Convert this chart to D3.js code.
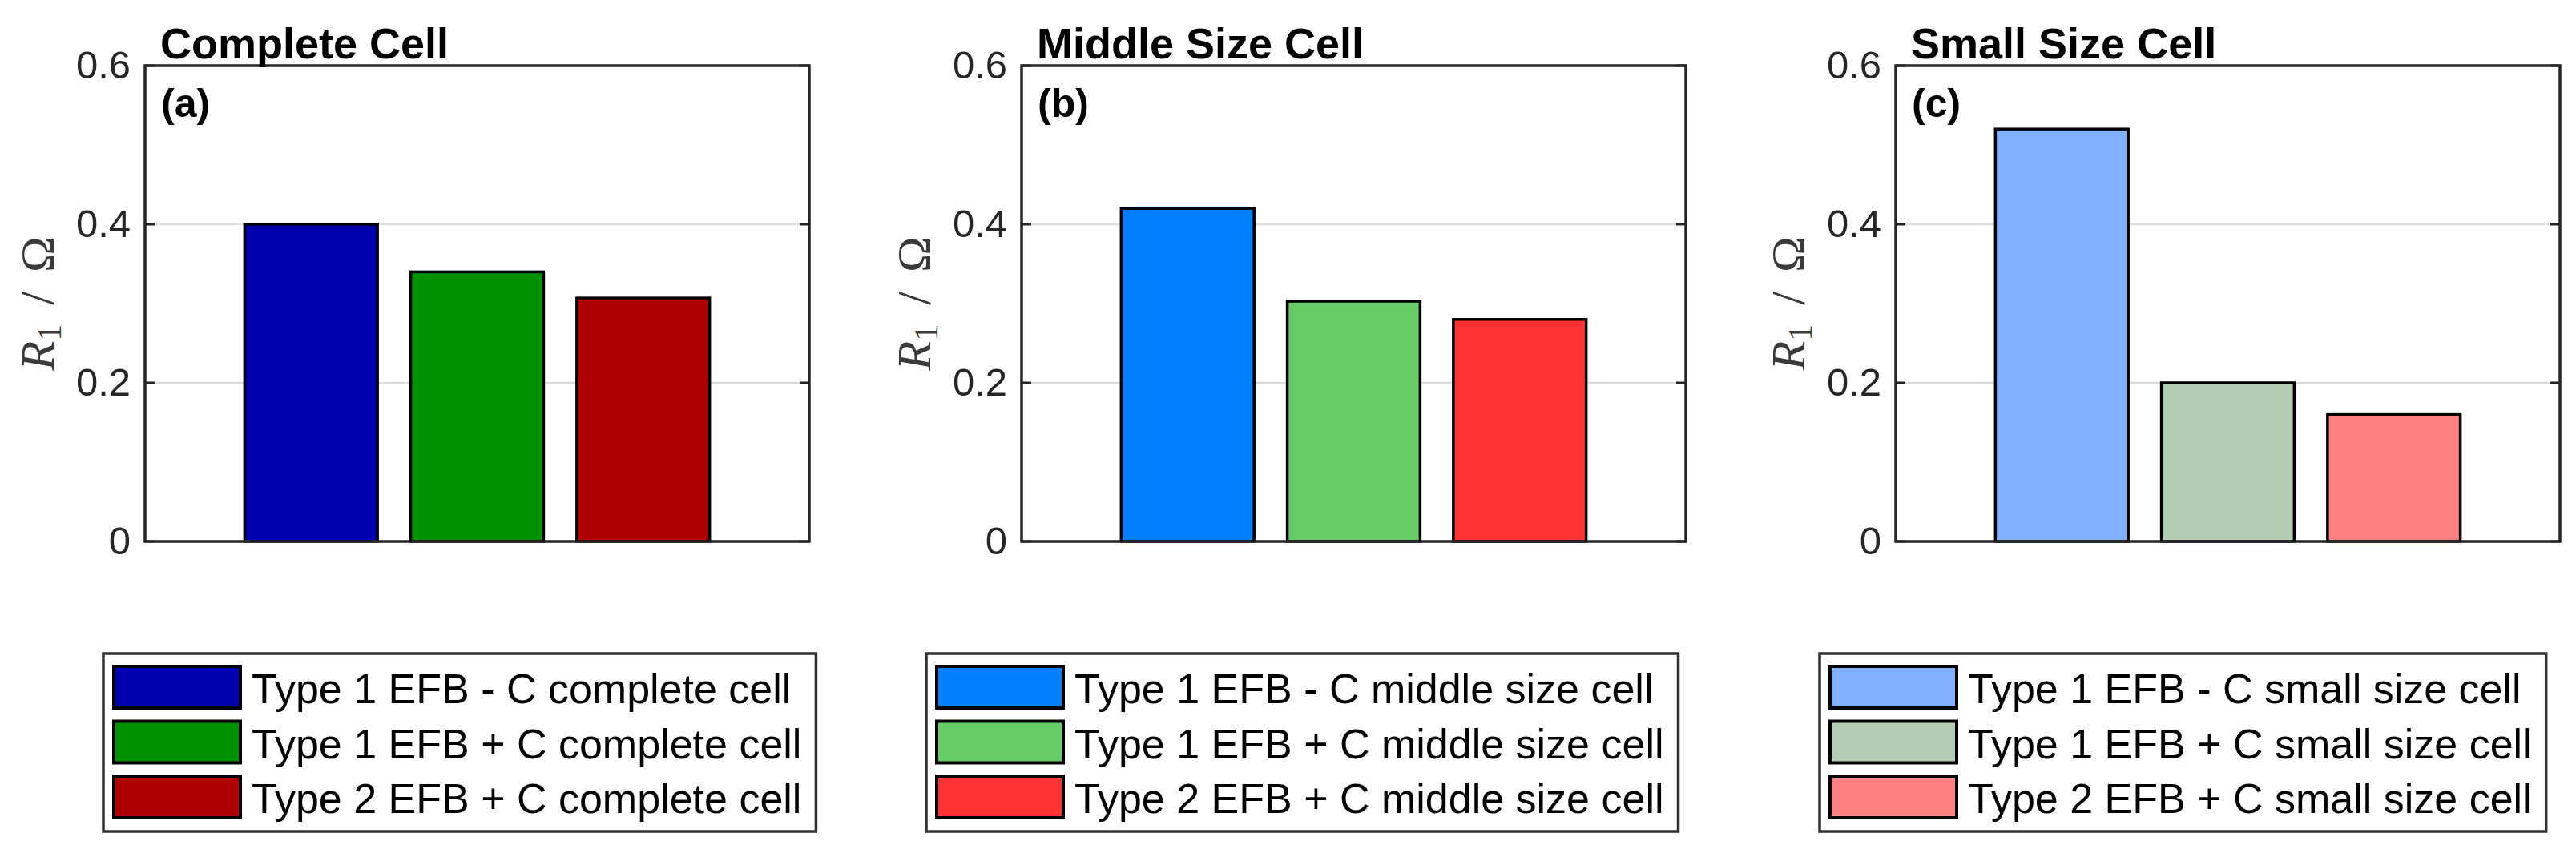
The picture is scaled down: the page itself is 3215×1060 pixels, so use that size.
<!DOCTYPE html>
<html>
<head>
<meta charset="utf-8">
<script src="https://cdn.jsdelivr.net/npm/d3@7"></script>
<style>
  body { margin: 0; background: #fff; }
  svg { display: block; }
</style>
</head>
<body>
<div id="chart"></div>
<script>
// Data
const panelTitles = ["Complete Cell", "Middle Size Cell", "Small Size Cell"];
const panelTags = ["(a)", "(b)", "(c)"];
const seriesNames = ["Type 1 EFB - C", "Type 1 EFB + C", "Type 2 EFB + C"];
const cellNames = ["complete cell", "middle size cell", "small size cell"];
const valuesComplete = [0.400, 0.340, 0.307];
const valuesMiddle = [0.420, 0.303, 0.280];
const valuesSmall = [0.520, 0.200, 0.160];
const colorsComplete = ["#0000b0", "#009100", "#b00000"];
const colorsMiddle = ["#0080ff", "#66cc66", "#ff3333"];
const colorsSmall = ["#80b0ff", "#b4ccb4", "#ff8080"];
const yTicks = [0, 0.2, 0.4, 0.6];
const yTickLabels = ["0", "0.2", "0.4", "0.6"];

const panelValues = [valuesComplete, valuesMiddle, valuesSmall];
const panelColors = [colorsComplete, colorsMiddle, colorsSmall];

const W = 3215, H = 1060;
const plotLeft = [181, 1275, 2366],
      plotW = 829, plotTop = 82, plotBottom = 676;
const legendLeft = [129, 1156, 2271],
      legendTop = 816, legendH = 222;

const svg = d3.select("#chart").append("svg")
    .attr("width", W)
    .attr("height", H);

const y = d3.scaleLinear().domain([0, 0.6]).range([plotBottom, plotTop]);

panelTitles.forEach((title, p) => {
    const x0 = plotLeft[p];
    const x = d3.scaleLinear().domain([0, 4]).range([x0, x0 + plotW]);
    const barW = (x(1) - x(0)) * 0.8;
    const g = svg.append("g");

    // grid lines
    g.selectAll("line.grid")
        .data(yTicks.filter(t => t > 0 && t < 0.6))
      .enter().append("line")
        .attr("class", "grid")
        .attr("x1", x0).attr("x2", x0 + plotW)
        .attr("y1", d => y(d)).attr("y2", d => y(d))
        .attr("stroke", "#dedede")
        .attr("stroke-width", 2.5);

    // bars
    g.selectAll("rect.bar")
        .data(panelValues[p])
      .enter().append("rect")
        .attr("class", "bar")
        .attr("x", (d, i) => x(i + 1) - barW / 2)
        .attr("y", d => y(d))
        .attr("width", barW)
        .attr("height", d => y(0) - y(d))
        .attr("fill", (d, i) => panelColors[p][i])
        .attr("stroke", "#000")
        .attr("stroke-width", 3.5);

    // left axis ticks and labels
    const axisL = d3.axisLeft(y).tickValues(yTicks)
        .tickFormat((d, i) => yTickLabels[i])
        .tickSize(0).tickPadding(18);
    const ax = g.append("g")
        .attr("transform", `translate(${x0},0)`)
        .call(axisL);
    ax.select(".domain").remove();
    ax.selectAll("text")
        .attr("font-family", "Liberation Sans, Arial, sans-serif")
        .attr("font-size", 49)
        .attr("fill", "#262626");

    // inner tick marks on both sides
    g.selectAll("line.tickL")
        .data(yTicks)
      .enter().append("line")
        .attr("x1", x0).attr("x2", x0 + 12)
        .attr("y1", d => y(d)).attr("y2", d => y(d))
        .attr("stroke", "#262626").attr("stroke-width", 3);
    g.selectAll("line.tickR")
        .data(yTicks)
      .enter().append("line")
        .attr("x1", x0 + plotW - 12).attr("x2", x0 + plotW)
        .attr("y1", d => y(d)).attr("y2", d => y(d))
        .attr("stroke", "#262626").attr("stroke-width", 3);

    // box
    g.append("rect")
        .attr("x", x0).attr("y", plotTop)
        .attr("width", plotW).attr("height", plotBottom - plotTop)
        .attr("fill", "none")
        .attr("stroke", "#262626")
        .attr("stroke-width", 3.5);

    // title and panel tag
    g.append("text")
        .attr("x", x0 + 19).attr("y", 73)
        .attr("font-family", "Liberation Sans, Arial, sans-serif")
        .attr("font-weight", "bold")
        .attr("font-size", 54)
        .text(title);
    g.append("text")
        .attr("x", x0 + 20).attr("y", 146)
        .attr("font-family", "Liberation Sans, Arial, sans-serif")
        .attr("font-weight", "bold")
        .attr("font-size", 50)
        .text(panelTags[p]);

    // y label: R_1 / Ω
    const yl = g.append("text")
        .attr("transform", `translate(${x0 - 114},${(plotTop + plotBottom) / 2}) rotate(-90)`)
        .attr("text-anchor", "middle")
        .attr("font-family", "Liberation Serif, DejaVu Serif, serif")
        .attr("font-size", 60)
        .attr("fill", "#3a3a3a");
    yl.append("tspan").attr("font-style", "italic").text("R");
    yl.append("tspan").attr("font-size", 42).attr("dy", 9).text("1");
    yl.append("tspan").attr("dy", -9).attr("xml:space", "preserve").text("\u2009\u2009/\u2009\u2009");
    yl.append("tspan").text("\u03A9");

    // legend
    const lg = svg.append("g").attr("transform", `translate(${legendLeft[p]},${legendTop})`);
    const box = lg.append("rect")
        .attr("x", 0).attr("y", 0)
        .attr("height", legendH)
        .attr("fill", "#fff")
        .attr("stroke", "#303030")
        .attr("stroke-width", 3.5);
    const rows = lg.selectAll("g.row")
        .data(seriesNames)
      .enter().append("g")
        .attr("transform", (d, i) => `translate(0,${16 + i * 68.5})`);
    rows.append("rect")
        .attr("x", 13).attr("y", 0)
        .attr("width", 158).attr("height", 52)
        .attr("fill", (d, i) => panelColors[p][i])
        .attr("stroke", "#000")
        .attr("stroke-width", 4);
    const texts = rows.append("text")
        .attr("x", 185).attr("y", 46)
        .attr("font-family", "Liberation Sans, Arial, sans-serif")
        .attr("font-size", 52)
        .attr("fill", "#000")
        .text(d => `${d} ${cellNames[p]}`);
    let maxW = 0;
    texts.each(function() { maxW = Math.max(maxW, this.getComputedTextLength()); });
    box.attr("width", 185 + maxW + 18);
});
</script>
</body>
</html>
